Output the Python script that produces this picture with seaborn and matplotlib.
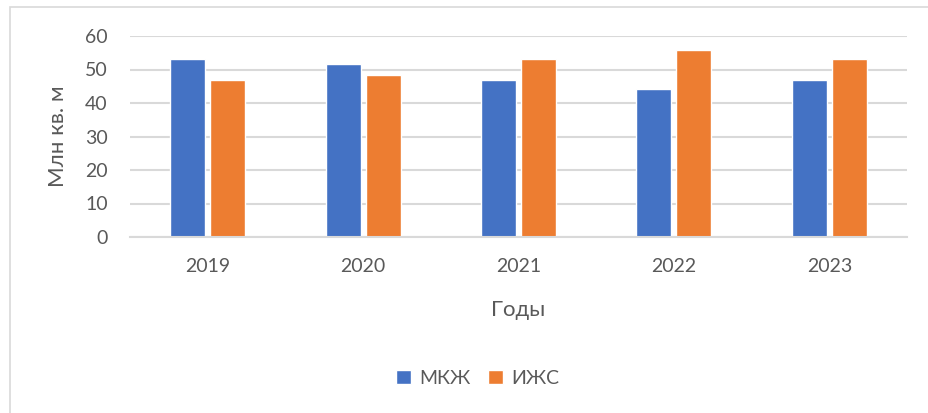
import numpy as np
import pandas as pd
import matplotlib
matplotlib.use("Agg")
import matplotlib.pyplot as plt
from matplotlib.patches import Rectangle
import seaborn as sns

# Ввод жилья по типам застройки, млн кв. м
years = ["2019", "2020", "2021", "2022", "2023"]
mkzh = [53.0, 51.6, 47.0, 44.3, 46.8]
izhs = [47.0, 48.4, 53.0, 55.7, 53.2]
series_names = ["МКЖ", "ИЖС"]
y_ticks = [0, 10, 20, 30, 40, 50, 60]

df = pd.DataFrame({
    "Год": years * 2,
    "Тип": [series_names[0]] * len(years) + [series_names[1]] * len(years),
    "Площадь": mkzh + izhs,
})

sns.set_theme(style="white")
plt.rcParams["font.family"] = ["Lato", "DejaVu Sans"]
text_color = "#595959"
grid_color = "#d9d9d9"

W, H = 929, 413
fig = plt.figure(figsize=(W / 100, H / 100), dpi=100)
ax = fig.add_axes([130 / W, 1 - 237 / H, (907 - 130) / W, (237 - 36) / H])

sns.barplot(
    data=df, x="Год", y="Площадь", hue="Тип",
    palette=["#4472C4", "#ED7D31"], width=0.515, gap=0.126,
    saturation=1, ax=ax, legend=True,
)

ax.set_ylim(0, 60)
ax.set_yticks(y_ticks)
ax.set_xlim(-0.5, len(years) - 0.5)
ax.yaxis.grid(True, color=grid_color, linewidth=1.5)
ax.set_axisbelow(True)
for side in ["top", "right", "left"]:
    ax.spines[side].set_visible(False)
ax.spines["bottom"].set_color(grid_color)
ax.spines["bottom"].set_linewidth(1.5)
ax.tick_params(axis="both", length=0, labelsize=14, colors=text_color)
ax.tick_params(axis="y", pad=16)
ax.tick_params(axis="x", pad=15)

ax.set_xlabel("Годы", fontsize=16, color=text_color)
ax.set_ylabel("Млн кв. м", fontsize=16, color=text_color)
ax.xaxis.set_label_coords(0.5, -0.315)
ax.yaxis.set_label_coords(-0.080, 0.5)

handles, labels = ax.get_legend_handles_labels()
ax.legend_.remove()
fig.legend(
    handles, labels, loc="center", bbox_to_anchor=(478 / W, 1 - 378 / H),
    ncol=2, frameon=False, fontsize=14, labelcolor=text_color,
    handlelength=0.75, handleheight=0.75, handletextpad=0.45, columnspacing=0.9,
)

# Рамка области диаграммы
fig.patches.append(Rectangle(
    (10 / W, -0.1), 1.2, 1 - 7 / H + 0.1, transform=fig.transFigure,
    fill=False, edgecolor=grid_color, linewidth=1.2, zorder=-1,
))

fig.savefig("out.png", dpi=100)
